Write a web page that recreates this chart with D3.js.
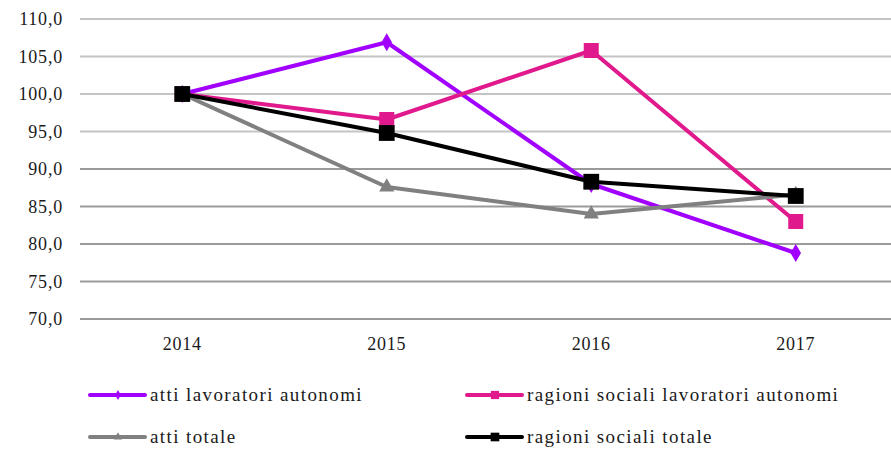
<!DOCTYPE html>
<html>
<head>
<meta charset="utf-8">
<script src="https://cdn.jsdelivr.net/npm/d3@7"></script>
<style>
body{margin:0;background:#fff;}
text{font-family:"Liberation Serif","DejaVu Serif",serif;}
</style>
</head>
<body>
<div id="svgContainer"></div>
<script>
var svgWidth = 891, svgHeight = 450;
var years = ["2014","2015","2016","2017"];
var yTicks = [70,75,80,85,90,95,100,105,110];
var attiAutonomi = [100, 106.9, 88.0, 78.8];
var ragioniAutonomi = [100, 96.6, 105.8, 83.0];
var attiTotale = [100, 87.6, 84.0, 86.6];
var ragioniTotale = [100, 94.8, 88.3, 86.4];
var names = ["atti lavoratori autonomi","ragioni sociali lavoratori autonomi","atti totale","ragioni sociali totale"];

var series = [
  {name:names[0], values:attiAutonomi, color:"#a100ff", shape:d3.symbolDiamond, size:95},
  {name:names[1], values:ragioniAutonomi, color:"#e0198c", shape:d3.symbolSquare, size:225},
  {name:names[2], values:attiTotale, color:"#808080", shape:d3.symbolTriangle, size:100},
  {name:names[3], values:ragioniTotale, color:"#000000", shape:d3.symbolSquare, size:250}
];

var svg = d3.select("#svgContainer").append("svg")
  .attr("width",svgWidth).attr("height",svgHeight);

var x = d3.scaleBand().domain(years).range([80, 898]);
var y = d3.scaleLinear().domain([70,110]).range([319, 19]);

// gridlines
svg.append("g").selectAll("line").data(yTicks).enter().append("line")
  .attr("x1",80).attr("x2",svgWidth)
  .attr("y1",d=>y(d)).attr("y2",d=>y(d))
  .attr("stroke",function(d){ return d>=95 ? "#c4c4c4" : "#9a9a9a"; })
  .attr("stroke-width",2);

// y labels
svg.append("g").selectAll("text").data(yTicks).enter().append("text")
  .attr("x",63).attr("y",d=>y(d)+6)
  .attr("text-anchor","end")
  .attr("font-size",18).attr("letter-spacing",0.8)
  .attr("fill","#1a1a1a")
  .text(d=>d3.format(".1f")(d).replace(".",","));

// x labels
svg.append("g").selectAll("text").data(years).enter().append("text")
  .attr("x",d=>x(d)+x.bandwidth()/2).attr("y",350)
  .attr("text-anchor","middle")
  .attr("font-size",18).attr("letter-spacing",0.8)
  .attr("fill","#1a1a1a")
  .text(d=>d);

var line = d3.line()
  .x(function(d,i){ return x(years[i])+x.bandwidth()/2; })
  .y(function(d){ return y(d); });

series.forEach(function(s){
  var g = svg.append("g");
  g.append("path").datum(s.values)
    .attr("d",line).attr("fill","none")
    .attr("stroke",s.color).attr("stroke-width",4)
    .attr("stroke-linejoin","round");
  g.selectAll("path.m").data(s.values).enter().append("path")
    .attr("class","m")
    .attr("d",d3.symbol().type(s.shape).size(s.size))
    .attr("transform",function(d,i){ return "translate("+(x(years[i])+x.bandwidth()/2)+","+y(d)+")"; })
    .attr("fill",s.color);
});

// legend
var legPos = [[90,395],[467,395],[90,437],[467,437]];
var legend = svg.selectAll(".legend").data(series).enter().append("g")
  .attr("class","legend")
  .attr("transform",function(d,i){ return "translate("+legPos[i]+")"; });
legend.append("line")
  .attr("x1",0).attr("x2",55).attr("y1",0).attr("y2",0)
  .attr("stroke",d=>d.color).attr("stroke-width",4).attr("stroke-linecap","round");
legend.append("path")
  .attr("d",function(d){ return d3.symbol().type(d.shape).size(d.size*0.3)(); })
  .attr("transform","translate(28,0)")
  .attr("fill",d=>d.color);
legend.append("text")
  .attr("x",60).attr("y",6)
  .attr("font-size",19).attr("letter-spacing",1.4)
  .attr("fill","#1a1a1a")
  .text(d=>d.name);
</script>
</body>
</html>
